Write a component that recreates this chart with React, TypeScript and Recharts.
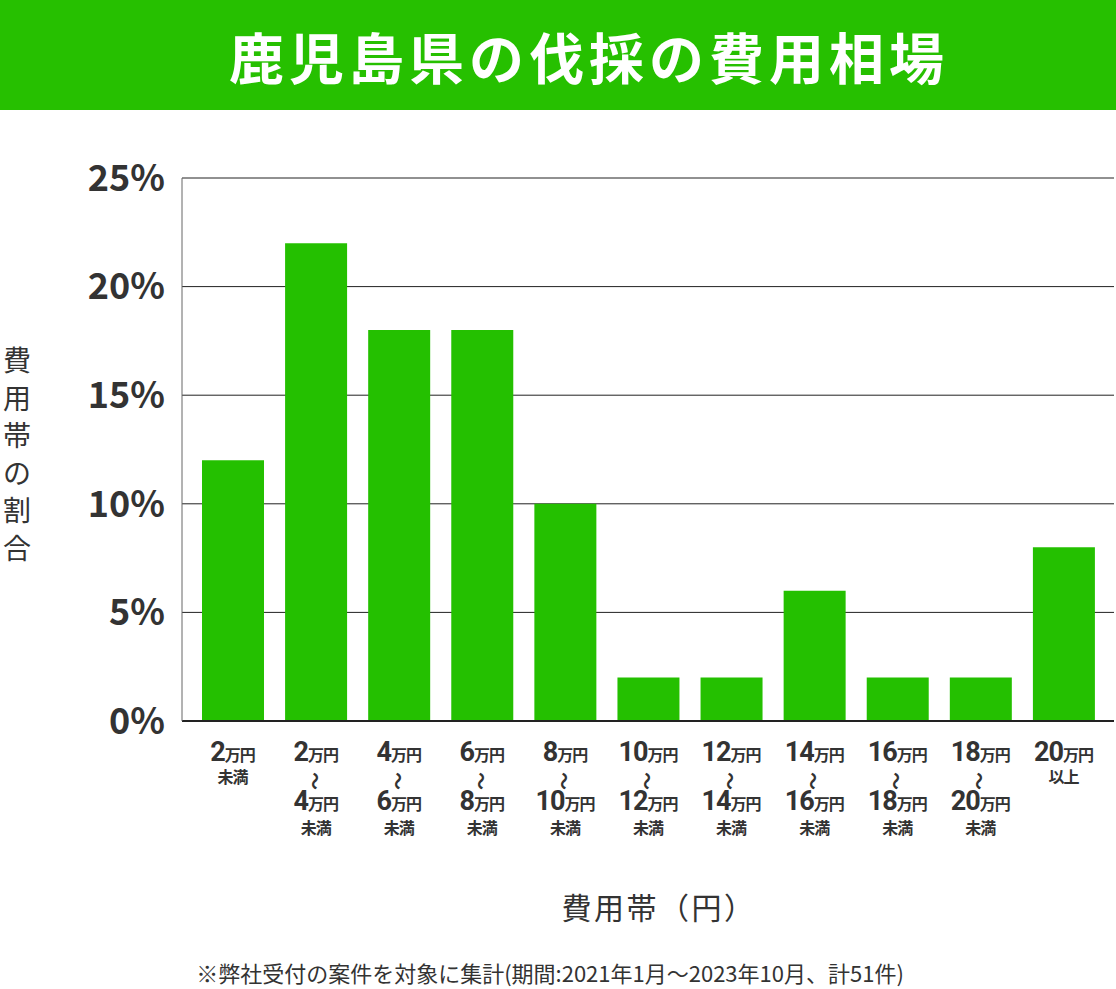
import { Bar, BarChart, CartesianGrid, XAxis, YAxis } from "recharts";

// 費用帯ごとの件数割合 (%)
const lowerBounds = ["2", "2", "4", "6", "8", "10", "12", "14", "16", "18", "20"];
const upperBounds = [null, "4", "6", "8", "10", "12", "14", "16", "18", "20", null];
const suffixes = ["未満", "未満", "未満", "未満", "未満", "未満", "未満", "未満", "未満", "未満", "以上"];
const shares = [12, 22, 18, 18, 10, 2, 2, 6, 2, 2, 8];
const yTicks = [0, 5, 10, 15, 20, 25];

const GREEN = "#24c000";
const INK = "#333333";
const JP = '"Noto Sans CJK JP", "Noto Sans", sans-serif';
const NUM = 'Roboto, "Noto Sans CJK JP", sans-serif';

const rows = lowerBounds.map((lo, i) => ({
  band: upperBounds[i] ? `${lo}～${upperBounds[i]}万円${suffixes[i]}` : `${lo}万円${suffixes[i]}`,
  share: shares[i],
}));

if (typeof document !== "undefined") document.body.style.margin = "0";

function Amount({ x, y, value }: { x: number; y: number; value: string }) {
  return (
    <text x={x} y={y} textAnchor="middle" fill={INK} fontWeight={700}>
      <tspan fontFamily={NUM} fontSize={27} letterSpacing={-1}>
        {value}
      </tspan>
      <tspan fontFamily={JP} fontSize={16} letterSpacing={-1}>
        万円
      </tspan>
    </text>
  );
}

function BandTick(props: any) {
  const { x, y, index } = props;
  const lo = lowerBounds[index];
  const hi = upperBounds[index];
  const suffix = suffixes[index];
  if (!hi) {
    return (
      <g>
        <Amount x={x} y={y + 40} value={lo} />
        <text x={x} y={y + 62} textAnchor="middle" fill={INK} fontFamily={JP} fontWeight={700} fontSize={16} letterSpacing={-1}>
          {suffix}
        </text>
      </g>
    );
  }
  return (
    <g>
      <Amount x={x} y={y + 40} value={lo} />
      <text
        x={x}
        y={y + 60}
        textAnchor="middle"
        dominantBaseline="central"
        fill={INK}
        fontFamily={JP}
        fontWeight={700}
        fontSize={18}
        transform={`rotate(90 ${x} ${y + 60})`}
      >
        ～
      </text>
      <Amount x={x} y={y + 89} value={hi} />
      <text x={x} y={y + 113} textAnchor="middle" fill={INK} fontFamily={JP} fontWeight={700} fontSize={16} letterSpacing={-1}>
        {suffix}
      </text>
    </g>
  );
}

export default function App() {
  return (
    <div style={{ position: "relative", width: 1116, height: 989, background: "#fff", fontFamily: JP }}>
      <div
        style={{
          position: "absolute",
          left: 0,
          top: 0,
          width: 1116,
          height: 110,
          background: "#26c000",
          color: "#fff",
          fontWeight: 700,
          fontSize: 55,
          letterSpacing: 5,
          lineHeight: "110px",
          textAlign: "center",
          paddingLeft: 62,
          boxSizing: "border-box",
        }}
      >
        鹿児島県の伐採の費用相場
      </div>

      <div
        style={{
          position: "absolute",
          left: 2,
          top: 341,
          width: 30,
          display: "flex",
          flexDirection: "column",
          alignItems: "center",
          fontSize: 28,
          lineHeight: "37.5px",
          color: INK,
        }}
      >
        {"費用帯の割合".split("").map((c, i) => (
          <span key={i}>{c}</span>
        ))}
      </div>

      <BarChart
        width={1116}
        height={989}
        data={rows}
        margin={{ top: 178, right: 2, bottom: 0, left: 0 }}
        style={{ position: "absolute", left: 0, top: 0 }}
      >
        <CartesianGrid vertical={false} stroke="#222" />
        <XAxis
          dataKey="band"
          height={268}
          interval={0}
          padding={{ left: 9, right: 9 }}
          tickSize={0}
          tickMargin={0}
          tickLine={false}
          axisLine={{ stroke: "#222", strokeWidth: 2 }}
          tick={<BandTick />}
        />
        <YAxis
          width={182}
          domain={[0, 25]}
          ticks={yTicks}
          tickFormatter={(v) => `${v}%`}
          tickSize={0}
          tickMargin={17}
          tickLine={false}
          axisLine={{ stroke: "#666" }}
          tick={{ fill: INK, fontSize: 36, fontWeight: 700, fontFamily: JP }}
        />
        <Bar dataKey="share" fill={GREEN} barSize={62} isAnimationActive={false} />
      </BarChart>

      <div
        style={{
          position: "absolute",
          left: 459,
          top: 884,
          width: 400,
          textAlign: "center",
          fontSize: 30,
          letterSpacing: 2.5,
          color: INK,
        }}
      >
        費用帯（円）
      </div>

      <div
        style={{
          position: "absolute",
          left: 0,
          top: 956,
          width: 1100,
          textAlign: "center",
          fontSize: 22,
          color: INK,
        }}
      >
        ※弊社受付の案件を対象に集計(期間:2021年1月～2023年10月、計51件)
      </div>
    </div>
  );
}
